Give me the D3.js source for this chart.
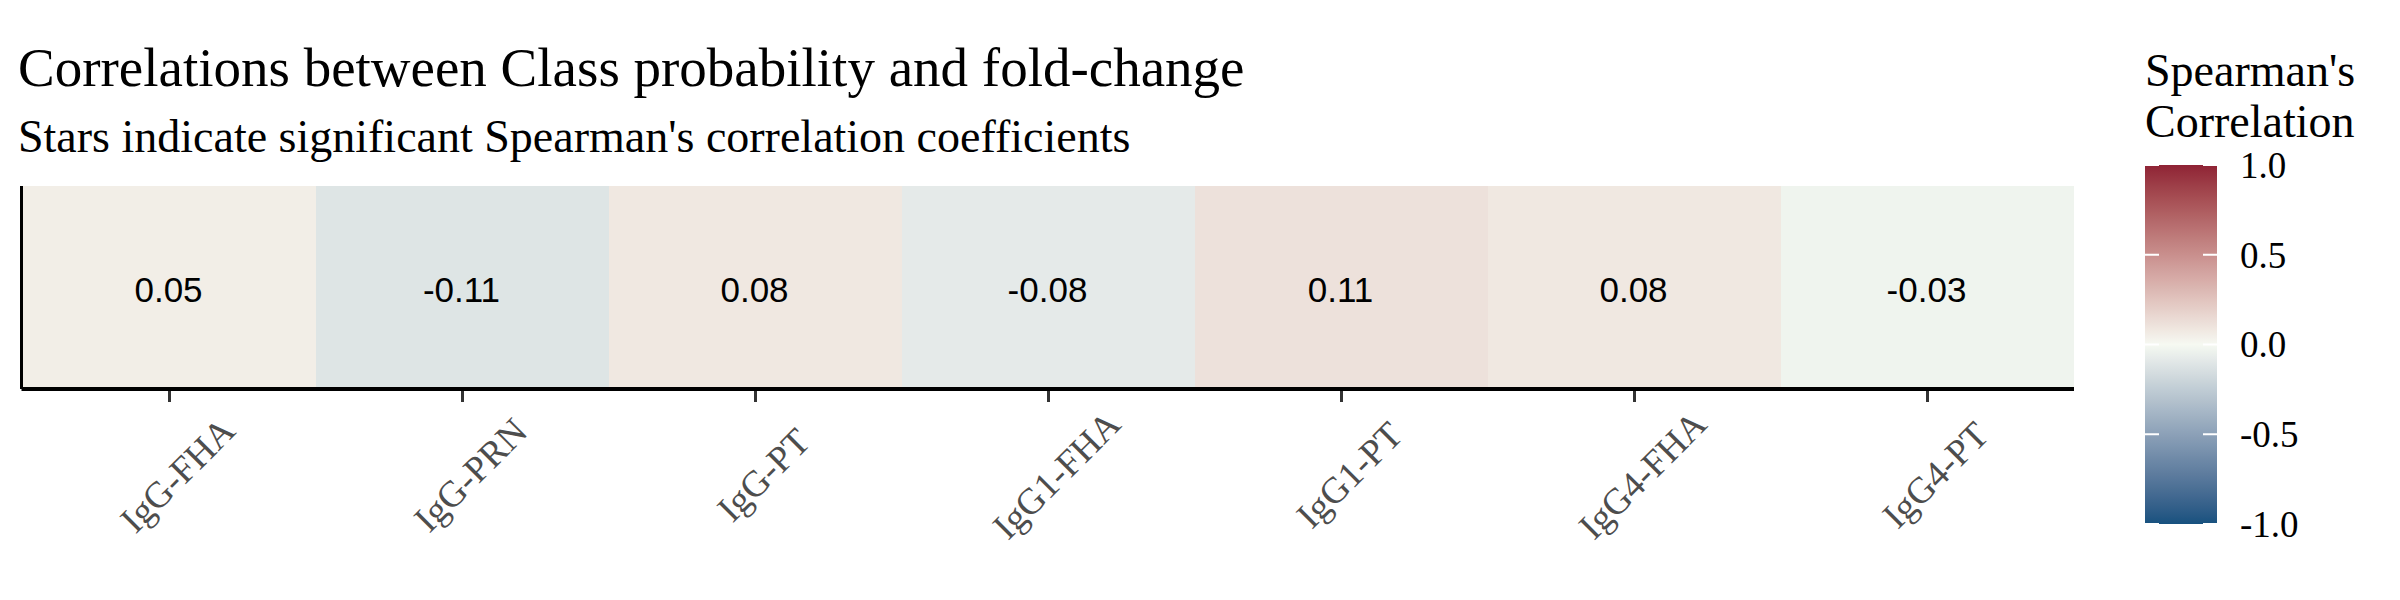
<!DOCTYPE html>
<html>
<head>
<meta charset="utf-8">
<script src="https://cdn.jsdelivr.net/npm/d3@7"></script>
<style>
  body { margin: 0; background: #fff; }
  svg text { font-family: "Liberation Serif", "Times New Roman", serif; }
</style>
</head>
<body>
<div id="chart"></div>
<script>
/**
 * Chart data.
 */
var antigens = ["IgG-FHA", "IgG-PRN", "IgG-PT", "IgG1-FHA", "IgG1-PT", "IgG4-FHA", "IgG4-PT"];
var rhoValues = [0.05, -0.11, 0.08, -0.08, 0.11, 0.08, -0.03];
var legendTicks = [-1.0, -0.5, 0.0, 0.5, 1.0];

var width = 2400;
var height = 600;

var panel = {
    left: 23,
    right: 2074,
    top: 186,
    bottom: 389
};

// R prints a plain hyphen, not the unicode minus d3 uses
var fmt2 = v => d3.format(".2f")(v).replace("\u2212", "-");
var fmt1 = v => d3.format(".1f")(v).replace("\u2212", "-");

var svg = d3.select("#chart").append("svg")
    .attr("width", width)
    .attr("height", height);

// red / white / blue, interpolated in Lab like ggplot's gradient2
var color = d3.scaleLinear()
    .domain([-1, 0, 1])
    .range(["#16517f", "#f6f9f2", "#8f2235"])
    .interpolate(d3.interpolateLab);

var x = d3.scaleBand()
    .domain(antigens)
    .range([panel.left, panel.right])
    .padding(0);

var data = antigens.map((a, i) => ({ name: a, rho: rhoValues[i] }));

// titles
svg.append("text")
    .attr("x", 18)
    .attr("y", 86)
    .style("font-size", "55px")
    .attr("fill", "#000")
    .text("Correlations between Class probability and fold-change");

svg.append("text")
    .attr("x", 18)
    .attr("y", 152)
    .style("font-size", "46px")
    .attr("fill", "#000")
    .text("Stars indicate significant Spearman's correlation coefficients");

// tiles
svg.append("g")
    .selectAll("rect")
    .data(data)
    .enter()
    .append("rect")
    .attr("x", d => x(d.name))
    .attr("y", panel.top)
    .attr("width", x.bandwidth())
    .attr("height", panel.bottom - panel.top)
    .attr("fill", d => color(d.rho));

svg.append("g")
    .selectAll("text")
    .data(data)
    .enter()
    .append("text")
    .attr("x", d => x(d.name) + x.bandwidth() / 2 - 1)
    .attr("y", (panel.top + panel.bottom) / 2)
    .attr("text-anchor", "middle")
    .attr("dy", "0.41em")
    .style("font-family", "'Liberation Sans', Arial, sans-serif")
    .style("font-size", "35px")
    .attr("fill", "#000")
    .text(d => fmt2(d.rho));

// x axis
var xAxis = g => g
    .attr("transform", `translate(0,${panel.bottom})`)
    .call(d3.axisBottom(x).tickSize(13).tickSizeOuter(0))
    .call(g => g.select(".domain").remove())
    .call(g => g.selectAll(".tick line")
        .attr("stroke", "#333333")
        .attr("stroke-width", 3));

var gx = svg.append("g")
    .attr("class", "x-axis")
    .call(xAxis);

gx.selectAll(".tick text")
    .attr("y", 0)
    .attr("dy", 0)
    .attr("transform", "translate(8,86) rotate(-45)")
    .attr("dominant-baseline", "central")
    .style("text-anchor", "middle")
    .style("font-family", "'Liberation Serif', 'Times New Roman', serif")
    .style("font-size", "37px")
    .attr("fill", "#4d4d4d");

// axis lines
svg.append("line")
    .attr("x1", panel.left - 1.5)
    .attr("x2", panel.right)
    .attr("y1", panel.bottom)
    .attr("y2", panel.bottom)
    .attr("stroke", "#000")
    .attr("stroke-width", 4);

svg.append("line")
    .attr("x1", panel.left - 1.5)
    .attr("x2", panel.left - 1.5)
    .attr("y1", panel.top)
    .attr("y2", panel.bottom)
    .attr("stroke", "#000")
    .attr("stroke-width", 3);

// legend
var legend = {
    x: 2145,
    w: 72,
    top: 165,
    bottom: 524
};

var ly = d3.scaleLinear()
    .domain([-1, 1])
    .range([legend.bottom, legend.top]);

var defs = svg.append("defs");
var grad = defs.append("linearGradient")
    .attr("id", "rho-grad")
    .attr("x1", 0).attr("x2", 0)
    .attr("y1", 1).attr("y2", 0);

grad.selectAll("stop")
    .data(d3.range(0, 1.0001, 0.02))
    .enter()
    .append("stop")
    .attr("offset", d => d)
    .attr("stop-color", d => color(-1 + 2 * d));

svg.append("text")
    .attr("x", legend.x)
    .attr("y", 86)
    .style("font-size", "46px")
    .text("Spearman's");

svg.append("text")
    .attr("x", legend.x)
    .attr("y", 137)
    .style("font-size", "46px")
    .text("Correlation");

svg.append("rect")
    .attr("x", legend.x)
    .attr("y", legend.top)
    .attr("width", legend.w)
    .attr("height", legend.bottom - legend.top)
    .attr("fill", "url(#rho-grad)");

var lt = svg.append("g")
    .selectAll("g")
    .data(legendTicks)
    .enter()
    .append("g")
    .attr("transform", d => `translate(0,${ly(d)})`);

lt.append("line")
    .attr("x1", legend.x)
    .attr("x2", legend.x + 14)
    .attr("stroke", "#fff")
    .attr("stroke-width", 2);

lt.append("line")
    .attr("x1", legend.x + legend.w - 14)
    .attr("x2", legend.x + legend.w)
    .attr("stroke", "#fff")
    .attr("stroke-width", 2);

lt.append("text")
    .attr("x", 2240)
    .attr("dy", "0.35em")
    .style("font-size", "37px")
    .attr("fill", "#000")
    .text(d => fmt1(d));
</script>
</body>
</html>
